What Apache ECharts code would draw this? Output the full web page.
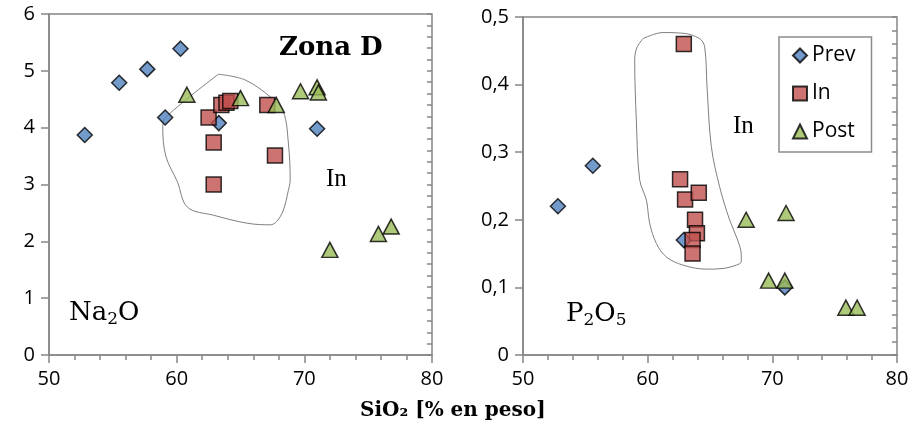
<!DOCTYPE html>
<html>
<head>
<meta charset="utf-8">
<script src="https://cdn.jsdelivr.net/npm/echarts@6/dist/echarts.min.js"></script>
<style>html,body{margin:0;padding:0;background:#fff;}#c{width:914px;height:433px;}</style>
</head>
<body>
<div id="c"></div>
<script>
// ---- Data: left panel (Na2O vs SiO2) ----
const na2oPrev = [[52.8,3.87],[55.5,4.79],[57.7,5.03],[60.3,5.39],[59.1,4.18],[63.3,4.08],[71.0,3.98]];
const na2oIn   = [[62.5,4.18],[62.9,3.74],[62.9,3.00],[67.7,3.51],[67.1,4.40],[63.5,4.40],[63.9,4.44],[64.2,4.47]];
const na2oPost = [[60.8,4.58],[65.0,4.52],[67.8,4.40],[69.7,4.64],[71.0,4.71],[71.1,4.62],[72.0,1.85],[75.8,2.13],[76.8,2.26]];
const na2oField = [[63.27,4.94],[65.36,4.84],[67.45,4.52],[68.36,4.28],[68.75,3.73],[68.89,3.08],[68.75,2.90],[68.36,2.55],[67.84,2.35],[67.32,2.29],[65.49,2.32],[62.88,2.46],[60.85,2.60],[60.05,3.05],[59.15,3.50],[58.91,4.02],[59.22,4.20],[63.27,4.94]];

// ---- Data: right panel (P2O5 vs SiO2) ----
const p2o5Prev = [[52.8,0.22],[55.6,0.28],[62.9,0.17],[71.0,0.10]];
const p2o5In   = [[62.9,0.46],[62.6,0.26],[63.0,0.23],[64.1,0.24],[63.8,0.20],[63.95,0.18],[63.6,0.17],[63.6,0.15]];
const p2o5Post = [[67.9,0.20],[71.1,0.21],[69.7,0.11],[71.0,0.11],[75.9,0.07],[76.8,0.07]];
const p2o5Field = [[59.62,0.468],[61.23,0.477],[62.83,0.476],[64.17,0.468],[64.57,0.456],[64.76,0.397],[65.11,0.308],[65.77,0.249],[66.57,0.200],[67.22,0.170],[67.51,0.148],[67.51,0.138],[67.11,0.133],[66.04,0.128],[64.71,0.127],[62.83,0.133],[61.5,0.145],[60.70,0.165],[60.16,0.195],[59.9,0.229],[59.36,0.259],[59.09,0.348],[58.96,0.436],[59.12,0.454],[59.62,0.468]];

// ---- Axis settings ----
const xTicks = {min: 50, max: 80, major: 10, minor: 2};
const yLeft  = {min: 0, max: 6, major: 1, minor: 0.2};
const yRight = {min: 0, max: 0.5, major: 0.1, minor: 0.02};
const legendNames = ['Prev', 'In', 'Post'];

const AX = '#868686';
const labelFont = {fontFamily: 'Open Sans', fontSize: 20, color: '#000'};

function majorX(grid) {
  return {type:'value', gridIndex:grid, min:xTicks.min, max:xTicks.max, interval:xTicks.major,
    axisLine:{show:true, onZero:false, lineStyle:{color:AX, width:1.5}},
    axisTick:{show:true, inside:false, length:8, lineStyle:{color:AX, width:1.5}},
    axisLabel:Object.assign({margin:14}, labelFont), splitLine:{show:false}};
}
function minorX(grid) {
  return {type:'value', gridIndex:grid, min:xTicks.min, max:xTicks.max, interval:xTicks.minor,
    axisLine:{show:false}, axisTick:{show:true, inside:true, length:5, lineStyle:{color:AX, width:1.5}},
    axisLabel:{show:false}, splitLine:{show:false}};
}
function majorY(grid, cfg, fmt) {
  return {type:'value', gridIndex:grid, min:cfg.min, max:cfg.max, interval:cfg.major,
    axisLine:{show:true, onZero:false, lineStyle:{color:AX, width:1.5}},
    axisTick:{show:true, inside:false, length:8, lineStyle:{color:AX, width:1.5}},
    axisLabel:Object.assign({margin:14, formatter:fmt}, labelFont), splitLine:{show:false}};
}
function minorY(grid, cfg) {
  return {type:'value', gridIndex:grid, min:cfg.min, max:cfg.max, interval:cfg.minor,
    axisLine:{show:false}, axisTick:{show:true, inside:true, length:5, lineStyle:{color:AX, width:1.5}},
    axisLabel:{show:false}, splitLine:{show:false}};
}
const commaFmt = v => v === 0 ? '0' : v.toFixed(1).replace('.', ',');

const styles = {
  Prev: {symbol:'diamond', symbolSize:[15,15], itemStyle:{color:'#4F81BD', borderColor:'#000', borderWidth:1.5}},
  In:   {symbol:'rect', symbolSize:[15,15], itemStyle:{color:'#C0504D', borderColor:'#000', borderWidth:1.5}},
  Post: {symbol:'triangle', symbolSize:[16,15], itemStyle:{color:'#9BBB59', borderColor:'#000', borderWidth:1.5}}
};
function sc(name, data, xi, yi, z) {
  return Object.assign({type:'scatter', name:name, data:data, xAxisIndex:xi, yAxisIndex:yi, z:z,
    emphasis:{disabled:true}}, styles[name]);
}
function field(data, xi, yi) {
  return {type:'line', name:'field', data:data, xAxisIndex:xi, yAxisIndex:yi, z:1,
    showSymbol:false, smooth:0.35, silent:true, lineStyle:{color:'#7f7f7f', width:1}};
}
const formulaRich = {
  m: {fontFamily:'DejaVu Serif', fontSize:26, lineHeight:30, color:'#000'},
  s: {fontFamily:'DejaVu Serif', fontSize:17, lineHeight:17, verticalAlign:'bottom', color:'#000'}
};

const option = {
  animation:false,
  backgroundColor:'#fff',
  grid:[
    {left:49, top:14, width:383, height:341, show:true, borderColor:AX, borderWidth:1.5},
    {left:523, top:17, width:374, height:338, show:true, borderColor:AX, borderWidth:1.5}
  ],
  xAxis:[majorX(0), minorX(0), majorX(1), minorX(1)],
  yAxis:[majorY(0, yLeft, v => String(v)), minorY(0, yLeft), majorY(1, yRight, commaFmt), minorY(1, yRight)],
  legend:{data:legendNames, orient:'vertical', left:779, top:37, itemWidth:14, itemHeight:14, itemGap:17,
    padding:[8,16,10,13], borderColor:'#8c8c8c', borderWidth:1.5, backgroundColor:'#fff',
    textStyle:{fontFamily:'Open Sans', fontSize:21, color:'#000'}},
  series:[
    field(na2oField, 0, 0),
    sc('Prev', na2oPrev, 0, 0, 3),
    sc('In', na2oIn, 0, 0, 4),
    sc('Post', na2oPost, 0, 0, 5),
    field(p2o5Field, 2, 2),
    sc('Prev', p2o5Prev, 2, 2, 3),
    sc('In', p2o5In, 2, 2, 4),
    sc('Post', p2o5Post, 2, 2, 5)
  ],
  graphic:[
    {type:'text', left:279, top:35, style:{text:'Zona D', font:'bold 26px "DejaVu Serif"', fill:'#000'}},
    {type:'text', left:326, top:167, style:{text:'In', font:'25px "Liberation Serif"', fill:'#000'}},
    {type:'text', left:733, top:114, style:{text:'In', font:'25px "Liberation Serif"', fill:'#000'}},
    {type:'text', left:69, top:300, style:{text:'{m|Na}{s|2}{m|O}', rich:formulaRich}},
    {type:'text', left:566, top:301, style:{text:'{m|P}{s|2}{m|O}{s|5}', rich:formulaRich}},
    {type:'text', left:360, top:401, style:{text:'SiO₂ [% en peso]', font:'bold 20px "DejaVu Serif"', fill:'#000'}}
  ]
};
const chart = echarts.init(document.getElementById('c'), null, {renderer:'canvas'});
chart.setOption(option);
</script>
</body>
</html>
